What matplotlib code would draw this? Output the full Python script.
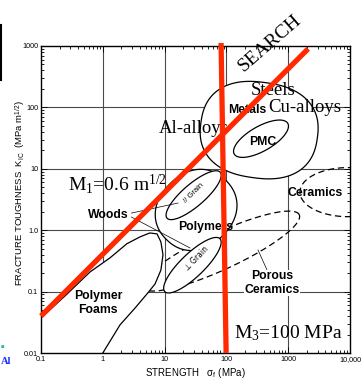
import numpy as np
import matplotlib
matplotlib.use("Agg")
import matplotlib.pyplot as plt

plt.rcParams['mathtext.fontset'] = 'custom'
plt.rcParams['mathtext.rm'] = 'Liberation Serif'
plt.rcParams['mathtext.it'] = 'Liberation Serif:italic'
plt.rcParams['mathtext.sf'] = 'Liberation Sans'
plt.rcParams['font.family'] = ['Liberation Sans', 'DejaVu Sans']

# ---------------- data ----------------
x_ticks = [0.1, 1, 10, 100, 1000, 10000]
x_tick_labels = ['0.1', '1', '10', '100', '1000', '10,000']
y_ticks = [0.01, 0.1, 1, 10, 100, 1000]
y_tick_labels = ['0.01', '0.1', '1.0', '10', '100', '1000']

# selection lines (strength MPa, toughness MPa m^1/2)
m1_strength = [0.1, 2100]
m1_toughness = [0.04, 900]
m3_strength = [82, 99]
m3_toughness = [1120, 0.01]

# envelopes: (log10 centre strength, log10 centre toughness, semi-axis a, semi-axis b [decades], angle deg, exponent)
env_metals = (2.53, 1.63, 0.95, 0.78, -8, 2.4)
env_pmc = (2.56, 1.49, 0.50, 0.20, 30, 2.0)
env_polymers = (1.51, 0.33, 0.68, 0.60, 45, 2.2)
env_wood_par = (1.47, 0.57, 0.57, 0.18, 41, 2.0)
env_wood_perp = (1.45, -0.57, 0.62, 0.19, 44, 2.0)
env_ceramics = (3.97, 0.62, 0.78, 0.40, 0, 2.0)
env_porous = (1.91, -0.34, 1.40, 0.30, 25, 2.0)

# polymer foams outline (log10 strength, log10 toughness)
foam_logx = [-1.1, -1.0, -0.6, -0.207, 0.117, 0.39, 0.60, 0.76, 0.877, 0.94, 0.974,
             0.94, 0.845, 0.73, 0.52, 0.28, 0.0, -0.13, -1.2, -1.2]
foam_logy = [-1.53, -1.43, -1.06, -0.68, -0.45, -0.22, -0.11, -0.045, -0.06, -0.19, -0.40,
             -0.65, -0.876, -1.02, -1.27, -1.54, -2.0, -2.2, -2.2, -1.53]


def envelope(p, m=500):
    cx, cy, a, b, ang, n = p
    t = np.linspace(0, 2 * np.pi, m)
    c, s = np.cos(t), np.sin(t)
    x = a * np.sign(c) * np.abs(c) ** (2.0 / n)
    y = b * np.sign(s) * np.abs(s) ** (2.0 / n)
    th = np.radians(ang)
    xr = x * np.cos(th) - y * np.sin(th)
    yr = x * np.sin(th) + y * np.cos(th)
    return 10 ** (cx + xr), 10 ** (cy + yr)


W, H = 363, 379
fig = plt.figure(figsize=(W / 100, H / 100), dpi=100)
ax = fig.add_axes([41 / W, (H - 353) / H, (350 - 41) / W, (353 - 46) / H])
ax.set_xscale('log')
ax.set_yscale('log')
ax.set_xlim(0.1, 10000)
ax.set_ylim(0.01, 1000)

grid_c = '#4a4a4a'
for v in [1, 10, 100, 1000]:
    ax.axvline(v, color=grid_c, lw=0.8, zorder=0.5)
for v in [0.1, 1, 10, 100]:
    ax.axhline(v, color=grid_c, lw=0.8, zorder=0.5)

ax.set_xticks(x_ticks)
ax.set_xticklabels(x_tick_labels)
ax.set_yticks(y_ticks)
ax.set_yticklabels(y_tick_labels)
ax.tick_params(which='both', direction='in', top=True, right=True, labelsize=5.2,
               colors='black', width=0.6)
ax.tick_params(which='major', length=4, pad=2)
ax.tick_params(which='minor', length=2.5)
for sp in ax.spines.values():
    sp.set_linewidth(1.0)

lc = 'black'
# dashed envelopes
for p in [env_ceramics, env_porous]:
    x, y = envelope(p)
    ax.plot(x, y, color=lc, lw=0.9, ls=(0, (5, 3)), zorder=2)

# polymer foams
fx = 10 ** np.array(foam_logx)
fy = 10 ** np.array(foam_logy)
ax.fill(fx, fy, facecolor='white', edgecolor=lc, lw=0.9, zorder=2.5)

# solid envelopes
for p, z in [(env_metals, 3), (env_pmc, 3.2), (env_polymers, 3), (env_wood_par, 3.2), (env_wood_perp, 3.2)]:
    x, y = envelope(p)
    ax.fill(x, y, facecolor='white', edgecolor=lc, lw=0.9, zorder=z)

# leader lines
ax.plot([2.9, 16.5], [1.9, 2.77], color=lc, lw=0.5, zorder=3.5)
ax.plot([2.9, 25.8], [1.64, 0.513], color=lc, lw=0.5, zorder=3.5)
ax.plot([324, 454], [0.478, 0.225], color=lc, lw=0.5, zorder=3.5)

# red selection lines
red = '#ff2a00'
ax.plot(m1_strength, m1_toughness, color=red, lw=3.8, solid_capstyle='butt', zorder=6, clip_on=False)
ax.plot(m3_strength, m3_toughness, color=red, lw=3.8, solid_capstyle='butt', zorder=6, clip_on=False)

serif = 'Liberation Serif'
bold = dict(fontfamily='Liberation Sans', fontweight='bold', fontsize=8.8, ha='center', va='center', zorder=5)

ax.text(507, 1120, 'SEARCH', fontfamily=serif, fontsize=14, rotation=41, ha='center', va='center', zorder=7)
ax.text(567, 192, 'Steels', fontfamily=serif, fontsize=13.5, ha='center', va='center', zorder=5)
ax.text(1860, 98, 'Cu-alloys', fontfamily=serif, fontsize=13.5, ha='center', va='center', zorder=5)
ax.text(30, 46, 'Al-alloys', fontfamily=serif, fontsize=13.5, ha='center', va='center', zorder=5)
ax.text(0.273, 5.65, r'M$_1$=0.6 m$^{1/2}$', fontfamily=serif, fontsize=14, ha='left', va='center', zorder=5)
ax.text(993, 0.0212, r'M$_3$=100 MPa', fontfamily=serif, fontsize=14, ha='center', va='center', zorder=5)

ax.text(215, 91, 'Metals', **bold)
ax.text(390, 27, 'PMC', **bold)
ax.text(2716, 4.04, 'Ceramics', **bold)
ax.text(1.21, 1.77, 'Woods', **bold)
ax.text(46.8, 1.13, 'Polymers', **bold)
ax.text(547, 0.138, 'Porous\nCeramics', linespacing=1.15,
        bbox=dict(facecolor='white', edgecolor='none', pad=0.5), **bold)
ax.text(0.835, 0.065, 'Polymer\nFoams', linespacing=1.15, **bold)
ax.text(30, 4.0, '// Grain', fontsize=5.5, rotation=45, ha='center', va='center', zorder=5)
ax.text(33.4, 0.352, '\u22a5 Grain', fontsize=5.5, rotation=46, ha='center', va='center',
        fontfamily=['DejaVu Sans'], zorder=5)

fig.text(195 / W, 1 - 373 / H, r'STRENGTH   $\mathsf{\sigma_f}$ (MPa)', fontsize=7, ha='center', va='center')
fig.text(20 / W, 1 - 193 / H, r'FRACTURE TOUGHNESS  $\mathsf{K_{IC}}$  (MPa m$^{\mathsf{1/2}}$)',
         fontsize=6.8, rotation=90, ha='center', va='center')

# slide remnants at the left edge
fig.add_artist(plt.Line2D([1 / W, 1 / W], [1 - 25 / H, 1 - 80 / H], color='black', lw=1.5))
fig.text(0 / W, 1 - 344 / H, '.', fontsize=14, color='#20b8b0', fontweight='bold', ha='left', va='center')
fig.text(0.5 / W, 1 - 362 / H, 'Al', fontsize=7.5, color='#1a2cff', fontfamily=serif, fontweight='bold',
         ha='left', va='center')

fig.savefig('out.png', dpi=100)
